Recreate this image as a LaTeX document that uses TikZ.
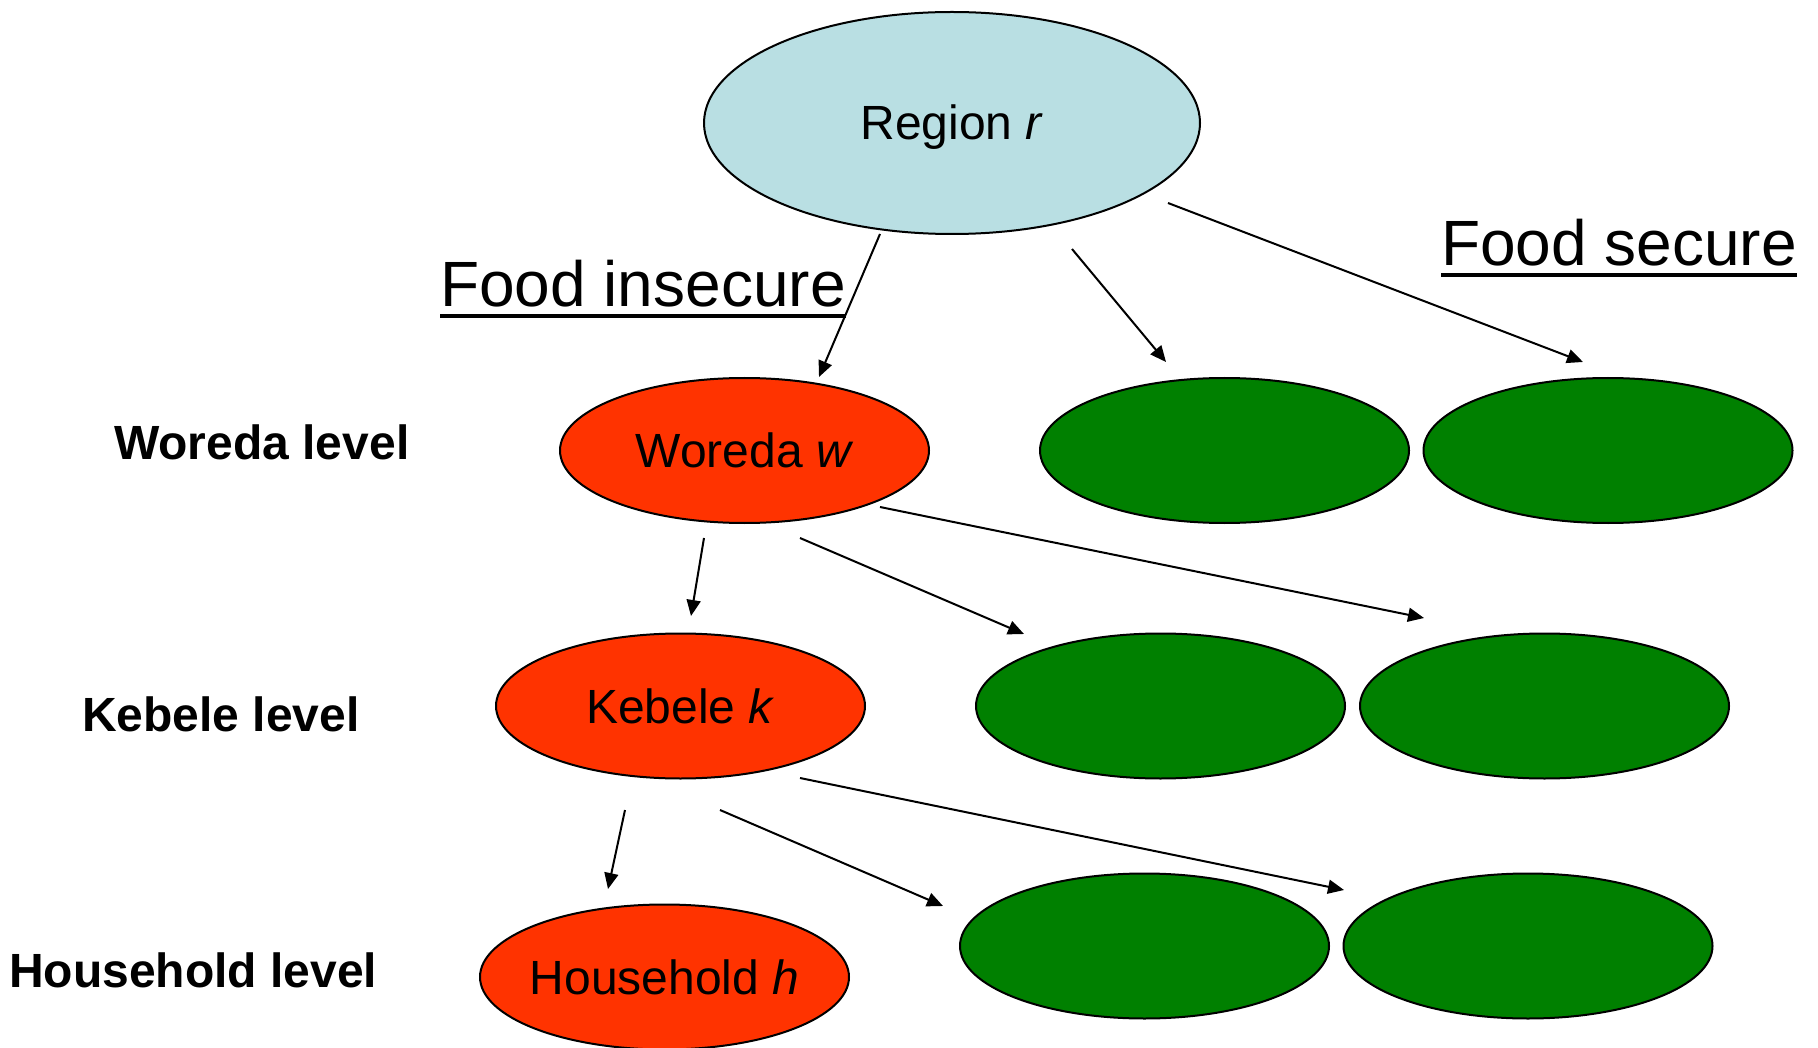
\documentclass[tikz,border=0pt]{standalone}
\usepackage{fontspec}
\setmainfont{Liberation Sans}
\usetikzlibrary{shapes.geometric,arrows.meta}
\definecolor{regblue}{HTML}{B9DFE3}
\definecolor{insred}{HTML}{FF3300}
\definecolor{secgreen}{HTML}{008000}
\tikzset{
  blob/.style={ellipse, draw=black, line width=2pt, minimum width=369pt, minimum height=145pt, inner sep=0pt, inner xsep=-20pt,
    font=\fontsize{48}{48}\selectfont, text height=34pt, text depth=0pt},
  redblob/.style={blob, fill=insred},
  greenblob/.style={blob, fill=secgreen},
  lvl/.style={anchor=base west, inner sep=0pt, font=\fontsize{48}{48}\selectfont\bfseries},
  head/.style={anchor=base west, inner sep=0pt, font=\fontsize{64}{64}\selectfont},
  arr/.style={-{Triangle[length=16pt,width=14pt]}, line width=2pt}
}
\begin{document}
\begin{tikzpicture}[x=1pt,y=-1pt]
\useasboundingbox (0,0) rectangle (1818,1048);
% nodes
\node[blob, fill=regblue, minimum width=496pt, minimum height=222pt] (reg) at (952,123) {Region \textit{r}};
\node[redblob] (wor) at (744.5,450.5) {Woreda \textit{w}};
\node[greenblob] (g11) at (1224.5,450.5) {};
\node[greenblob] (g12) at (1608,450.5) {};
\node[redblob] (keb) at (680.5,706) {Kebele \textit{k}};
\node[greenblob] (g21) at (1160.5,706) {};
\node[greenblob] (g22) at (1544.5,706) {};
\node[redblob] (hh) at (664.5,977) {Household \textit{h}};
\node[greenblob] (g31) at (1144.5,946) {};
\node[greenblob] (g32) at (1528,946) {};
% level labels
\node[lvl] (lw) at (114,459) {Woreda level};
\node[lvl] (lk) at (82,731) {Kebele level};
\node[lvl] (lh) at (9,987) {Household level};
% headings
\node[head] (fi) at (440,307) {Food insecure};
\draw[line width=4pt] (fi.base west) ++(0,9) -- ([yshift=-9pt]fi.base east);
\node[head] (fs) at (1441,266) {Food secure};
\draw[line width=4pt] (fs.base west) ++(0,9) -- ([yshift=-9pt]fs.base east);
% arrow end points
\coordinate (a1s) at (880,234); \coordinate (a1e) at (819,377);
\coordinate (a2s) at (1072,249); \coordinate (a2e) at (1166,362);
\coordinate (a3s) at (1168,203); \coordinate (a3e) at (1583,362);
\coordinate (a4s) at (704,538); \coordinate (a4e) at (691,616);
\coordinate (a5s) at (800,538); \coordinate (a5e) at (1024,634);
\coordinate (a6s) at (880,507); \coordinate (a6e) at (1424,618);
\coordinate (a7s) at (625,810); \coordinate (a7e) at (608,889);
\coordinate (a8s) at (720,810); \coordinate (a8e) at (943,906);
\coordinate (a9s) at (800,778); \coordinate (a9e) at (1344,890);
\foreach \i in {1,...,9} {\draw[arr] (a\i s) -- (a\i e);}
\end{tikzpicture}
\end{document}
